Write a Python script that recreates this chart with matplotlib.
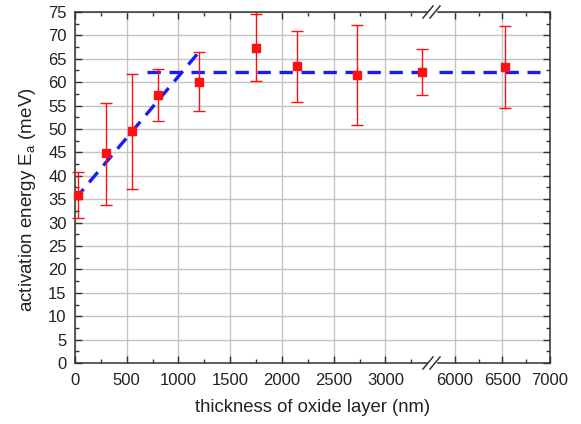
import matplotlib
matplotlib.use("Agg")
import matplotlib.pyplot as plt
from matplotlib.lines import Line2D
from matplotlib.patches import Rectangle
from matplotlib.ticker import MultipleLocator

plt.rcParams['font.family'] = ['Liberation Sans', 'DejaVu Sans']
plt.rcParams['font.size'] = 12

# measured activation energies vs. oxide thickness
thickness = [30, 300, 550, 800, 1200, 1750, 2150, 2725, 3350, 6530]
energy = [36.0, 44.8, 49.6, 57.3, 60.0, 67.3, 63.4, 61.6, 62.2, 63.3]
upper = [40.8, 55.5, 61.7, 62.8, 66.5, 74.6, 71.0, 72.3, 67.2, 72.0]
lower = [31.0, 33.8, 37.2, 51.7, 53.8, 60.3, 55.8, 50.8, 57.2, 54.5]

# guide lines: linear rise then saturation
rise_x = [0, 1200]
rise_y = [35.0, 66.5]
plateau_x = [700, 6900]
plateau_y = [62.1, 62.1]

W, H = 581, 424
fig = plt.figure(figsize=(W / 100, H / 100), dpi=100)
left, right, bottom, top, brk = 75, 550, 363, 12, 432
ax1 = fig.add_axes([left / W, 1 - bottom / H, (brk - left) / W, (bottom - top) / H])
ax2 = fig.add_axes([brk / W, 1 - bottom / H, (right - brk) / W, (bottom - top) / H], sharey=ax1)

seg1 = (0, 3450)
seg2 = (5760, 7000)

red = '#ff1010'
blue = '#1a1aff'
for ax, (lo, hi) in ((ax1, seg1), (ax2, seg2)):
    ax.set_xlim(lo, hi)
    ax.set_ylim(0, 75)
    ax.xaxis.set_major_locator(MultipleLocator(500))
    ax.xaxis.set_minor_locator(MultipleLocator(250))
    ax.yaxis.set_major_locator(MultipleLocator(5))
    ax.yaxis.set_minor_locator(MultipleLocator(2.5))
    ax.grid(True, which='major', color='#c4c4c4', linewidth=1.0)
    ax.set_axisbelow(True)
    ax.tick_params(which='both', direction='in', top=True, bottom=True, colors='#333333',
                   labelcolor='#222222', width=1.0)
    ax.tick_params(which='major', length=5)
    ax.tick_params(which='minor', length=3)
    ax.tick_params(axis='x', which='major', pad=7)
    ax.tick_params(axis='y', which='major', pad=6)
    for s in ax.spines.values():
        s.set_color('#333333')
        s.set_linewidth(1.1)
    sel = [i for i, t in enumerate(thickness) if lo <= t <= hi]
    xs = [thickness[i] for i in sel]
    ys = [energy[i] for i in sel]
    err = [[energy[i] - lower[i] for i in sel], [upper[i] - energy[i] for i in sel]]
    ax.errorbar(xs, ys, yerr=err, fmt='s', color=red, ecolor=red, markersize=6,
                elinewidth=1.0, capsize=4, capthick=1.0, zorder=4, clip_on=False)
    ax.plot(plateau_x, plateau_y, color=blue, lw=2.4, dashes=(4, 2.6), zorder=3)

ax1.plot(rise_x, rise_y, color=blue, lw=2.4, dashes=(4, 2.6), zorder=3)

ax1.spines['right'].set_visible(False)
ax2.spines['left'].set_visible(False)
ax1.tick_params(which='both', right=False, left=True)
ax2.tick_params(which='both', left=False, right=True, labelleft=False)
ax1.set_xticks([0, 500, 1000, 1500, 2000, 2500, 3000])
ax2.set_xticks([6000, 6500, 7000])

ax1.set_ylabel('activation energy E$_\\mathregular{a}$ (meV)', fontsize=13.5, color='#222222')
ax1.yaxis.set_label_coords((38 - left) / (brk - left), (bottom - 200) / (bottom - top))
fig.text((left + right) / 2 / W, 1 - 408 / H, 'thickness of oxide layer (nm)',
         ha='center', va='center', fontsize=13.3, color='#222222')

# axis break marks on bottom and top spines
for yp in (bottom, top):
    fig.patches.append(Rectangle(((brk - 4) / W, 1 - (yp + 2) / H), 8 / W, 4 / H,
                                 transform=fig.transFigure, color='white', zorder=10))
    for dx in (-4, 3):
        fig.lines.append(Line2D([(brk + dx - 5) / W, (brk + dx + 5) / W],
                                [1 - (yp + 6) / H, 1 - (yp - 6) / H],
                                transform=fig.transFigure, color='#333333', lw=1.1, zorder=11))

fig.savefig('out.png', dpi=100)
